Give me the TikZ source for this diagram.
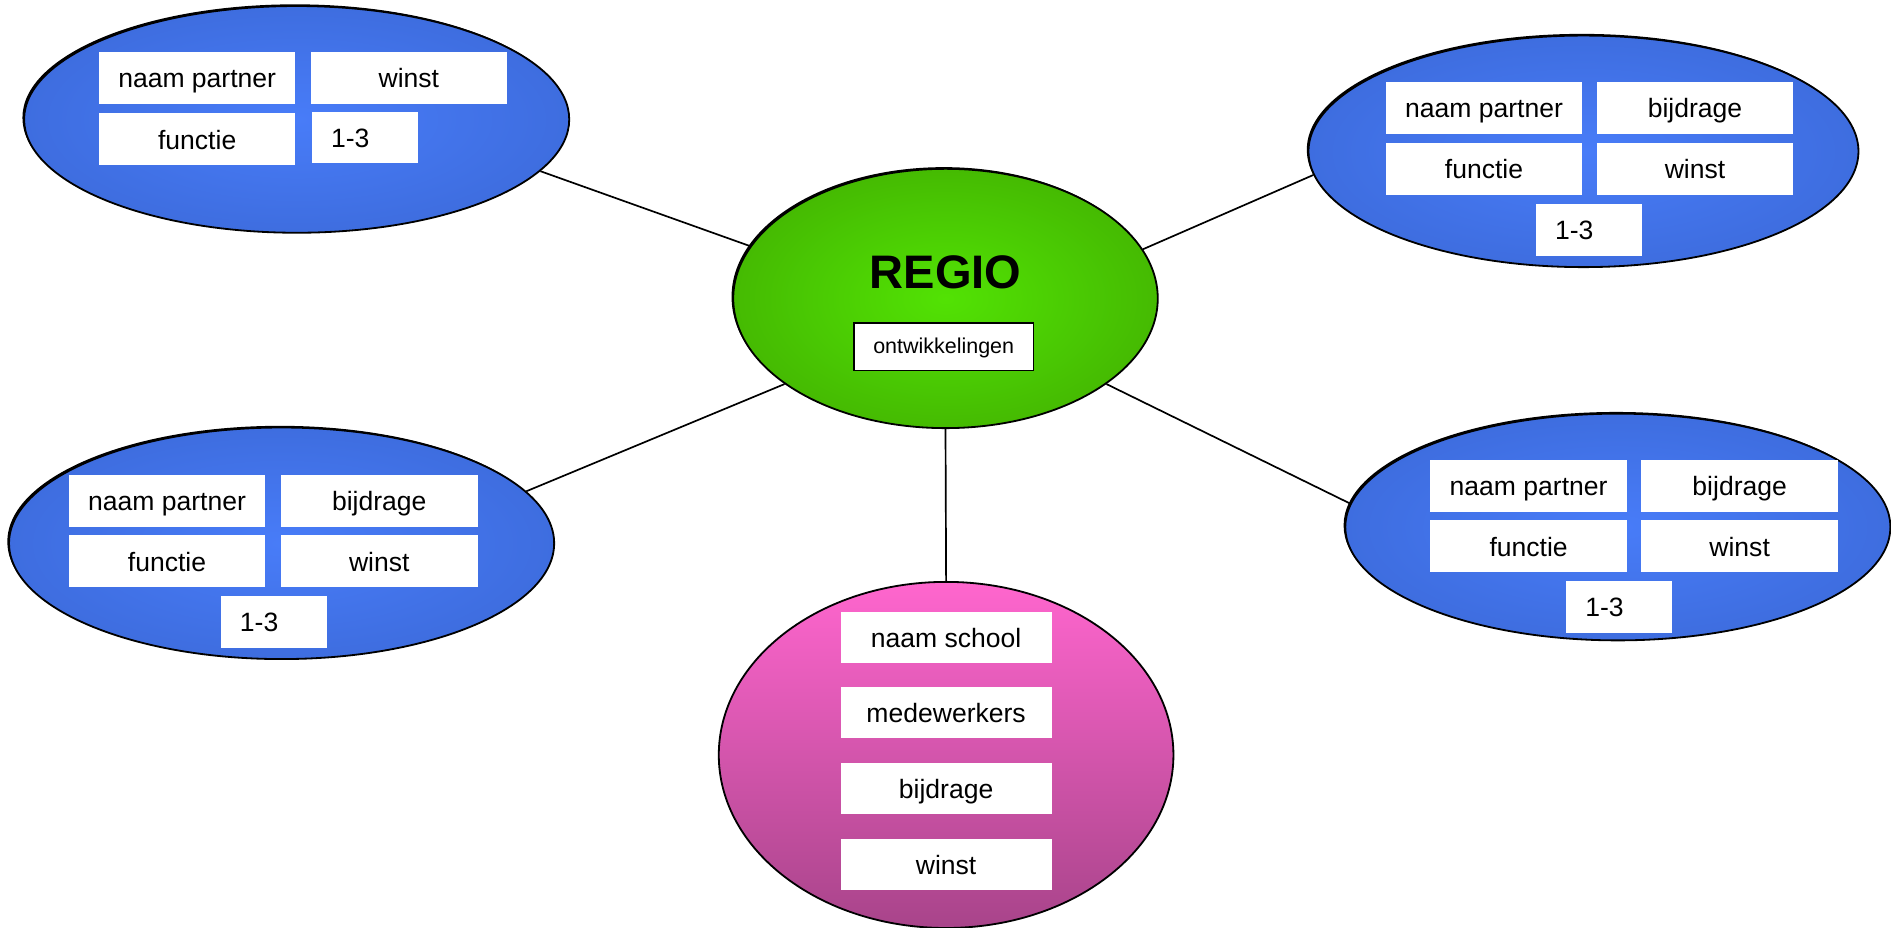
\documentclass[tikz,border=0pt]{standalone}
\usepackage{fontspec}
\setmainfont{Liberation Sans}
\usetikzlibrary{shapes.geometric}
\definecolor{bluein}{RGB}{72,124,248}
\definecolor{blueout}{RGB}{52,94,198}
\definecolor{greenin}{RGB}{82,226,4}
\definecolor{greenout}{RGB}{56,146,0}
\definecolor{pinktop}{RGB}{255,102,206}
\definecolor{pinkbot}{RGB}{168,68,138}
\pgfdeclareradialshading{bluerad}{\pgfpoint{0bp}{0bp}}{color(0bp)=(bluein); color(8bp)=(bluein!85!blueout); color(50bp)=(blueout)}
\pgfdeclareradialshading{greenrad}{\pgfpoint{0bp}{0bp}}{color(0bp)=(greenin); color(8bp)=(greenin!85!greenout); color(50bp)=(greenout)}
\tikzset{
  shad/.style={preaction={fill=black, transform canvas={xshift=-0.7pt,yshift=0.7pt}}},
  blob/.style={ellipse, draw=black, line width=0.75pt, inner sep=0pt},
  blueblob/.style={blob, shad, shading=bluerad},
  greenblob/.style={blob, shad, shading=greenrad},
  pinkblob/.style={blob, top color=pinktop, bottom color=pinkbot},
  field/.style={fill=white, inner sep=0pt, minimum width=81.5pt, minimum height=21.5pt,
    text height=8.2pt, text depth=0pt, font=\fontsize{11pt}{13pt}\selectfont},
  numfield/.style={fill=white, inner ysep=0pt, inner xsep=8pt, text width=28pt, align=left,
    minimum height=21.5pt, text height=8.2pt, text depth=0pt, font=\fontsize{11pt}{13pt}\selectfont},
  schoolfield/.style={field, minimum width=87.5pt, minimum height=21pt},
  conn/.style={draw=black, line width=0.7pt}
}
\begin{document}
\begin{tikzpicture}[x=0.5pt,y=-0.5pt]
\useasboundingbox (0,0) rectangle (1568,769);
% ellipses
\node[blueblob, minimum width=226pt, minimum height=94pt] (tl) at (246,99) {};
\node[blueblob, minimum width=228pt, minimum height=96pt] (tr) at (1313,125.5) {};
\node[blueblob, minimum width=226pt, minimum height=96pt] (lm) at (233.5,450.5) {};
\node[blueblob, minimum width=226pt, minimum height=94pt] (rm) at (1341.5,437) {};
\node[greenblob, minimum width=176pt, minimum height=107.5pt] (c) at (784,247.5) {};
\node[pinkblob, minimum width=188.5pt, minimum height=143.5pt] (b) at (784.5,626) {};
% connectors
\draw[conn] (tl.-12.3) -- (c.165.8);
\draw[conn] (tr.185.4) -- (c.14);
\draw[conn] (lm.12.3) -- (c.208.2);
\draw[conn] (rm.175) -- (c.-28);
\draw[conn] (b.90) -- (c.-90);
% centre
\node[font=\fontsize{19.5pt}{22pt}\selectfont\bfseries, inner sep=0pt] (regio) at (784,226) {REGIO};
\node[draw=black, line width=0.6pt, fill=white, inner sep=0pt, minimum width=74.5pt, minimum height=19.5pt,
  text height=6pt, text depth=0pt, font=\fontsize{8.9pt}{10pt}\selectfont] (ontw) at (782.5,287.5) {ontwikkelingen};
% top left
\node[field] (tlnaam) at (163.5,64.5) {naam partner};
\node[field] (tlwinst) at (339,64.5) {winst};
\node[field] (tlfunc) at (163.5,115.5) {functie};
\node[numfield] (tlnum) at (302.5,114) {1-3};
% top right
\node[field] (trnaam) at (1230.5,89.5) {naam partner};
\node[field] (trbij) at (1405.5,89.5) {bijdrage};
\node[field] (trfunc) at (1230.5,140) {functie};
\node[field] (trwinst) at (1405.5,140) {winst};
\node[numfield] (trnum) at (1317.5,190.5) {1-3};
% left middle
\node[field] (lmnaam) at (138.5,415.5) {naam partner};
\node[field] (lmbij) at (314.5,415.5) {bijdrage};
\node[field] (lmfunc) at (138.5,465.5) {functie};
\node[field] (lmwinst) at (314.5,465.5) {winst};
\node[numfield] (lmnum) at (227,515.5) {1-3};
% right middle
\node[field] (rmnaam) at (1267.5,403) {naam partner};
\node[field] (rmbij) at (1442.5,403) {bijdrage};
\node[field] (rmfunc) at (1267.5,453) {functie};
\node[field] (rmwinst) at (1442.5,453) {winst};
\node[numfield] (rmnum) at (1342.5,503) {1-3};
% bottom
\node[schoolfield] (bnaam) at (784.5,528.5) {naam school};
\node[schoolfield] (bmede) at (784.5,591) {medewerkers};
\node[schoolfield] (bbij) at (784.5,654) {bijdrage};
\node[schoolfield] (bwinst) at (784.5,717) {winst};
\end{tikzpicture}
\end{document}
